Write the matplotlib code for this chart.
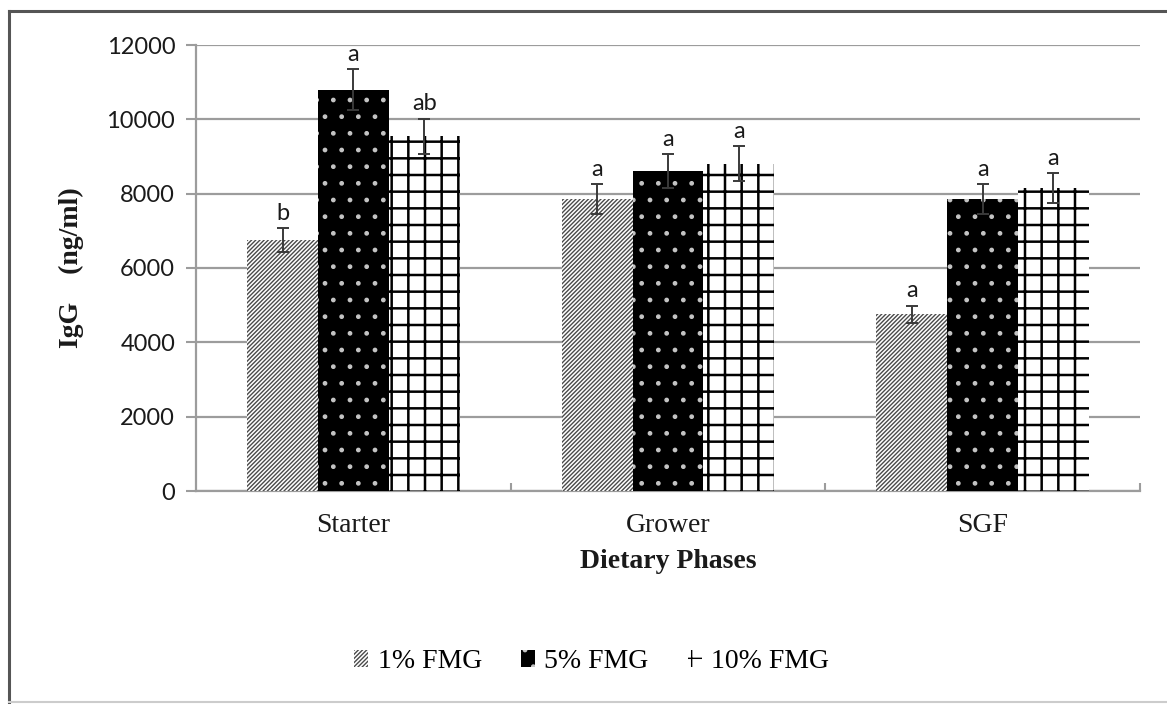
import numpy as np
import matplotlib
matplotlib.use("Agg")
import matplotlib.pyplot as plt
from matplotlib.lines import Line2D

phases = ["Starter", "Grower", "SGF"]
groups = ["1% FMG", "5% FMG", "10% FMG"]

igg_1 = [6750, 7850, 4750]
igg_5 = [10800, 8600, 7850]
igg_10 = [9550, 8800, 8150]

err_1 = [320, 400, 240]
err_5 = [560, 460, 400]
err_10 = [470, 470, 400]

sig_1 = ["b", "a", "a"]
sig_5 = ["a", "a", "a"]
sig_10 = ["ab", "a", "a"]

SERIF = ["Liberation Serif", "DejaVu Serif"]
SANS = ["Lato", "DejaVu Sans"]
TXT = "#1a1a1a"
GRID = "#9c9c9c"

plt.rcParams["hatch.linewidth"] = 1.0

fig = plt.figure(figsize=(11.67, 7.04), dpi=100)
ax = fig.add_axes([196 / 1167, 1 - 491 / 704, (1140 - 196) / 1167, (491 - 45) / 704])

x = np.arange(len(phases))
w = 0.225

styles = [
    dict(color="white", edgecolor="#4a4a4a", hatch="////////", lw_hatch=1.0),
    dict(color="black", edgecolor="#c4c4c4", hatch=".", lw_hatch=1.0),
    dict(color="white", edgecolor="black", hatch="+", lw_hatch=1.8),
]
series = [igg_1, igg_5, igg_10]
errors = [err_1, err_5, err_10]
letters = [sig_1, sig_5, sig_10]

handles = []
for i, (vals, errs, sty) in enumerate(zip(series, errors, styles)):
    pos = x + (i - 1) * w
    with plt.rc_context({"hatch.linewidth": sty["lw_hatch"]}):
        bars = ax.bar(pos, vals, w, color=sty["color"], edgecolor=sty["edgecolor"],
                      hatch=sty["hatch"], linewidth=0, zorder=3, label=groups[i])
    handles.append(bars)
    ax.errorbar(pos, vals, yerr=errs, fmt="none", ecolor="#3a3a3a",
                elinewidth=1.4, capsize=4.5, capthick=1.4, zorder=4)
    for xp, v, e, s in zip(pos, vals, errs, letters[i]):
        ax.annotate(s, (xp, v + e), xytext=(0, 3), textcoords="offset points",
                    ha="center", va="bottom", fontsize=17, family=SANS, color=TXT)

ax.set_xlim(-0.5, 2.5)
ax.set_ylim(0, 12000)
ax.set_yticks(np.arange(0, 12001, 2000))
ax.set_yticklabels([str(v) for v in range(0, 12001, 2000)], family=SANS, fontsize=17, color=TXT)
ax.set_xticks(x)
ax.set_xticklabels(phases, family=SERIF, fontsize=20, color=TXT)
ax.tick_params(axis="x", length=0, pad=16)
ax.tick_params(axis="y", length=7, width=1.5, color=GRID, pad=8)
ax.set_xticks([0.5, 1.5, 2.5], minor=True)
ax.tick_params(axis="x", which="minor", direction="in", length=6, width=1.5, color=GRID)

ax.grid(axis="y", color=GRID, linewidth=1.6, zorder=0)
ax.set_axisbelow(True)
for side in ["top", "right"]:
    ax.spines[side].set_visible(False)
for side in ["left", "bottom"]:
    ax.spines[side].set_color(GRID)
    ax.spines[side].set_linewidth(1.6)

ax.set_xlabel("Dietary Phases", family=SERIF, fontsize=20, fontweight="bold", color=TXT, labelpad=8)
ax.set_ylabel("IgG    (ng/ml)", family=SERIF, fontsize=20, fontweight="bold", color=TXT, labelpad=16)

fig.legend(handles=handles, labels=groups, loc="center", bbox_to_anchor=(0.507, 1 - 662 / 704),
           ncol=3, frameon=False, handlelength=0.5, handleheight=0.55, handletextpad=0.35,
           columnspacing=1.4, prop={"family": SERIF, "size": 20})

# outer frame
fig.add_artist(Line2D([9 / 1167, 9 / 1167], [2 / 704, 1 - 11 / 704], color="#555555", lw=2.2))
fig.add_artist(Line2D([9 / 1167, 1], [1 - 11 / 704, 1 - 11 / 704], color="#555555", lw=2.2))
fig.add_artist(Line2D([9 / 1167, 1], [2 / 704, 2 / 704], color="#cccccc", lw=1.5))

fig.savefig("out.png", dpi=100)
